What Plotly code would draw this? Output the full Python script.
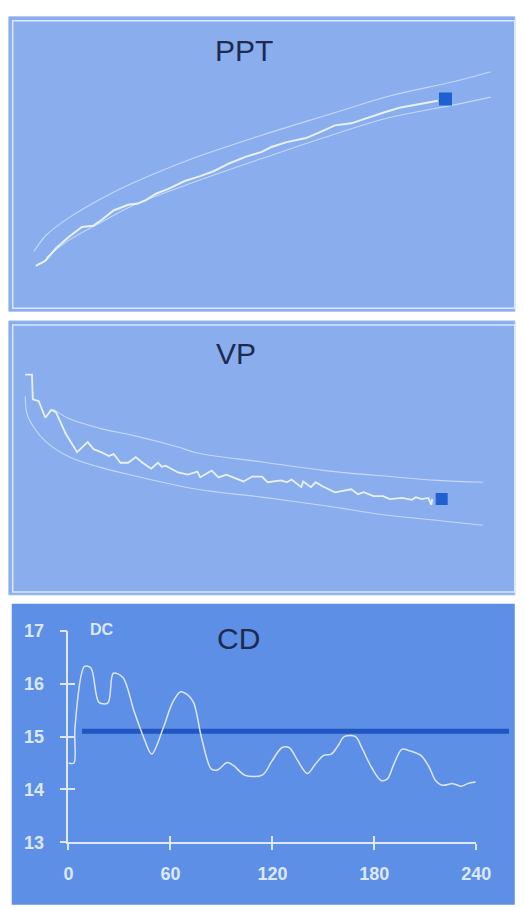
import plotly.graph_objects as go

W, H = 524, 908

# ---------------- data ----------------
# PPT panel (time index, arbitrary units 0-100)
ppt_t = [0, 5.5, 12, 19.5, 27, 33.6, 38.3, 45.6, 54.1, 59.7, 64.8, 70.4, 77.7, 87.3, 96.3,
         104.2, 113.2, 122.8, 132.4, 138, 147, 158.3, 166.2, 175.2, 184.8, 194.4, 203.4,
         213, 222.5, 229.9, 235.5]
ppt_v = [14.7, 16.4, 20.9, 24.8, 28.2, 28.6, 30.5, 33.9, 35.9, 36.3, 37.6, 39.7, 41.4, 44.1,
         45.8, 47.5, 50.2, 52.5, 54.2, 55.9, 57.6, 59.0, 61.0, 63.4, 64.1, 66.1, 67.8, 69.5,
         70.5, 71.5, 71.9]
ppt_up_t = [-1.1, 6.2, 19.7, 38.3, 56.9, 94.6, 132.4, 169.6, 207.3, 245.1, 266.5]
ppt_up_v = [19.7, 25.4, 31.5, 38.0, 43.4, 52.5, 60.0, 66.8, 73.6, 78.6, 82.0]
ppt_lo_t = [6.2, 19.7, 38.3, 56.9, 94.6, 132.4, 169.6, 207.3, 245.1, 266.5]
ppt_lo_v = [17.6, 23.7, 29.8, 35.6, 44.1, 51.9, 59.3, 66.1, 70.5, 73.2]
ppt_last_t = [240]
ppt_last_v = [72.5]

# VP panel
vp_t = [0, 3.9, 4.4, 7.8, 11.6, 15.0, 17.7, 23.3, 29.9, 36.0, 39.4, 43.8, 48.2, 51.0, 54.9,
        59.3, 63.7, 67.6, 72.6, 76.5, 78.7, 80.9, 88.1, 93.7, 99.2, 100.9, 107.5, 111.4,
        115.9, 119.7, 125.8, 130.8, 136.4, 139.7, 147.5, 150.8, 153.5, 159.1, 160.2, 164.6,
        167.4, 171.3, 178.5, 187.9, 191.8, 195.1, 200.7, 206.2, 210.1, 217.3, 222.8, 225.1,
        228.4, 232.3, 234.0, 234.6]
vp_v = [80.9, 80.9, 71.8, 71.1, 65.0, 67.9, 67.1, 59.2, 52.3, 56.0, 53.4, 52.3, 50.9, 51.6,
        48.4, 48.4, 50.5, 48.4, 46.2, 48.4, 46.9, 47.3, 44.8, 44.0, 45.1, 43.0, 45.5, 43.0,
        44.0, 43.0, 41.5, 43.3, 43.3, 41.2, 41.9, 41.2, 42.2, 39.4, 41.5, 39.4, 41.2, 39.7,
        37.5, 38.6, 36.8, 37.5, 36.1, 36.1, 35.0, 35.4, 34.7, 35.7, 35.0, 35.4, 32.9, 35.0]
vp_up_t = [16.1, 25.5, 43.8, 62.1, 88.1, 99.2, 136.4, 172.9, 210.1, 237.8, 263.9]
vp_up_v = [68.2, 64.6, 61.0, 58.5, 54.2, 52.0, 48.7, 45.5, 43.3, 41.9, 41.2]
vp_lo_t = [0, 1.1, 5.0, 12.2, 25.5, 43.8, 62.1, 99.2, 136.4, 172.9, 210.1, 237.8, 263.9]
vp_lo_v = [72.9, 66.4, 61.4, 56.0, 50.5, 46.6, 43.7, 38.6, 35.7, 32.5, 28.9, 27.1, 25.3]
vp_last_t = [240]
vp_last_v = [35.0]

# CD panel
cd_t = [0, 3.2, 3.8, 9.4, 13.2, 17.9, 23.2, 26.4, 32, 38.7, 44.3, 49, 55.7, 61.3, 66, 69.8,
        73.6, 78.3, 84, 87.7, 93.4, 97.2, 103.8, 114, 119.8, 125.5, 130, 135, 140.6, 145.3,
        150, 154.7, 158.5, 162.3, 168.9, 172.6, 178.3, 184, 187.7, 191.5, 196.2, 200.9,
        207.5, 212.3, 216, 219.8, 226.4, 231, 234.9, 239.6]
cd_v = [14.5, 14.5, 15.16, 16.33, 16.3, 15.65, 15.64, 16.2, 16.12, 15.47, 14.98, 14.67, 15.16,
        15.65, 15.85, 15.8, 15.65, 14.98, 14.39, 14.37, 14.51, 14.45, 14.27, 14.27, 14.54,
        14.79, 14.79, 14.54, 14.3, 14.48, 14.64, 14.67, 14.82, 15.0, 15.0, 14.79, 14.42,
        14.17, 14.2, 14.48, 14.76, 14.73, 14.64, 14.42, 14.17, 14.08, 14.11, 14.06, 14.11,
        14.14]
cd_ref_t = [8, 260]
cd_ref_v = [15.1, 15.1]

cd_xticks = [0, 60, 120, 180, 240]
cd_yticks = [13, 14, 15, 16, 17]

# ---------------- styling helpers ----------------
def px_x(p):
    return p / W

def px_y(p):
    return 1 - p / H

main_col = "rgba(236,244,255,0.95)"
band_col = "rgba(215,230,255,0.75)"
mark_col = "#1f5fcf"
title_col = "#1d2b50"
light = "#dce8ff"

fig = go.Figure()

# PPT
fig.add_trace(go.Scatter(x=ppt_up_t, y=ppt_up_v, mode="lines", line=dict(color=band_col, width=1.1, shape="spline"),
                         xaxis="x", yaxis="y", hoverinfo="skip"))
fig.add_trace(go.Scatter(x=ppt_lo_t, y=ppt_lo_v, mode="lines", line=dict(color=band_col, width=1.1, shape="spline"),
                         xaxis="x", yaxis="y", hoverinfo="skip"))
fig.add_trace(go.Scatter(x=ppt_t, y=ppt_v, mode="lines", line=dict(color=main_col, width=2),
                         xaxis="x", yaxis="y"))
fig.add_trace(go.Scatter(x=ppt_last_t, y=ppt_last_v, mode="markers",
                         marker=dict(symbol="square", size=13, color=mark_col), xaxis="x", yaxis="y"))

# VP
fig.add_trace(go.Scatter(x=vp_up_t, y=vp_up_v, mode="lines", line=dict(color=band_col, width=1.1, shape="spline"),
                         xaxis="x2", yaxis="y2", hoverinfo="skip"))
fig.add_trace(go.Scatter(x=vp_lo_t, y=vp_lo_v, mode="lines", line=dict(color=band_col, width=1.1, shape="spline"),
                         xaxis="x2", yaxis="y2", hoverinfo="skip"))
fig.add_trace(go.Scatter(x=vp_t, y=vp_v, mode="lines", line=dict(color=main_col, width=1.8),
                         xaxis="x2", yaxis="y2"))
fig.add_trace(go.Scatter(x=vp_last_t, y=vp_last_v, mode="markers",
                         marker=dict(symbol="square", size=12, color=mark_col), xaxis="x2", yaxis="y2"))

# CD
fig.add_trace(go.Scatter(x=cd_ref_t, y=cd_ref_v, mode="lines", line=dict(color="#2155c2", width=5),
                         xaxis="x3", yaxis="y3"))
fig.add_trace(go.Scatter(x=cd_t, y=cd_v, mode="lines",
                         line=dict(color="rgba(225,236,255,0.95)", width=1.5, shape="spline", smoothing=0.9),
                         xaxis="x3", yaxis="y3"))
# invisible traces to activate axis-only subplots
fig.add_trace(go.Scatter(x=[0], y=[13], mode="markers", marker=dict(opacity=0), xaxis="x4", yaxis="y4", hoverinfo="skip"))
fig.add_trace(go.Scatter(x=[0], y=[13], mode="markers", marker=dict(opacity=0), xaxis="x5", yaxis="y5", hoverinfo="skip"))

# ---------------- layout ----------------
hidden = dict(visible=False, showgrid=False, zeroline=False, fixedrange=True)

cd_x_left, cd_x_right = 66, 490
cd_y_top, cd_y_bot = 635, 851
scale = (cd_x_right - cd_x_left) / (cd_xticks[-1] - cd_xticks[0])
x3_max = (W - cd_x_left) / scale

tickfont = dict(family="Liberation Sans Narrow, Arial Narrow, Liberation Sans, Arial", size=18,
                color=light, weight="bold")

fig.update_layout(
    width=W, height=H,
    margin=dict(l=0, r=0, t=0, b=0),
    paper_bgcolor="white", plot_bgcolor="rgba(0,0,0,0)",
    showlegend=False,
    xaxis=dict(hidden, domain=[0, 1], range=[-18.03, 277.2], anchor="y"),
    yaxis=dict(hidden, domain=[px_y(305), px_y(10)], range=[0, 100], anchor="x"),
    xaxis2=dict(hidden, domain=[0, 1], range=[-11.64, 278.8], anchor="y2"),
    yaxis2=dict(hidden, domain=[px_y(597), px_y(320)], range=[0, 100], anchor="x2"),
    xaxis3=dict(hidden, domain=[px_x(cd_x_left), 1], range=[0, x3_max], anchor="y3"),
    yaxis3=dict(hidden, domain=[px_y(cd_y_bot), px_y(cd_y_top)], range=[13, 17], anchor="x3"),
    xaxis4=dict(domain=[px_x(cd_x_left), px_x(cd_x_right)], range=[0, 240], anchor="y4",
                showgrid=False, zeroline=False, showline=True, linecolor=light, linewidth=1.5,
                ticks="outside", ticklen=6, tickwidth=1.5, tickcolor=light,
                tickvals=cd_xticks, ticktext=[str(v) for v in cd_xticks], tickfont=tickfont,
                ticklabelstandoff=8, fixedrange=True),
    yaxis4=dict(domain=[px_y(cd_y_bot), px_y(cd_y_top)], range=[13, 17], anchor="x4",
                showgrid=False, zeroline=False, showline=True, linecolor=light, linewidth=1.5,
                ticks="outside", ticklen=7, tickwidth=1.5, tickcolor=light,
                tickvals=cd_yticks, ticktext=[str(v) for v in cd_yticks], tickfont=tickfont,
                ticklabelstandoff=12, fixedrange=True),
    xaxis5=dict(overlaying="x4", range=[0, 240], anchor="y4", side="bottom",
                showgrid=False, zeroline=False, showline=False,
                ticks="inside", ticklen=6, tickwidth=1.5, tickcolor=light,
                tickvals=cd_xticks, showticklabels=False, fixedrange=True),
    yaxis5=dict(overlaying="y4", range=[13, 17], anchor="x4", side="left",
                showgrid=False, zeroline=False, showline=False,
                ticks="inside", ticklen=7, tickwidth=1.5, tickcolor=light,
                tickvals=cd_yticks, showticklabels=False, fixedrange=True),
)

# panel backgrounds
shapes = []
for (x0, y0, x1, y1) in [(4, 7, 530, 308), (4, 318, 530, 598)]:
    shapes.append(dict(type="rect", xref="paper", yref="paper", layer="below",
                       x0=px_x(x0), x1=px_x(x1), y0=px_y(y1), y1=px_y(y0),
                       fillcolor="#8aaeed", line=dict(color="#9bb7e8", width=1)))
    shapes.append(dict(type="rect", xref="paper", yref="paper", layer="below",
                       x0=px_x(x0 + 4), x1=px_x(x1), y0=px_y(y1 - 3), y1=px_y(y0 + 4),
                       fillcolor="rgba(0,0,0,0)", line=dict(color="#dbe8ff", width=1.5)))
shapes.append(dict(type="rect", xref="paper", yref="paper", layer="below",
                   x0=px_x(7), x1=px_x(530), y0=px_y(915), y1=px_y(607),
                   fillcolor="#5d8fe6", line=dict(width=0)))
fig.update_layout(shapes=shapes)

title_font = dict(family="Liberation Sans, Arial", size=30, color=title_col)
fig.add_annotation(text="PPT", x=px_x(248), y=px_y(41), xref="paper", yref="paper",
                   showarrow=False, font=title_font, xanchor="center", yanchor="middle")
fig.add_annotation(text="VP", x=px_x(240), y=px_y(351), xref="paper", yref="paper",
                   showarrow=False, font=title_font, xanchor="center", yanchor="middle")
fig.add_annotation(text="CD", x=px_x(243), y=px_y(643), xref="paper", yref="paper",
                   showarrow=False, font=title_font, xanchor="center", yanchor="middle")
fig.add_annotation(text="DC", x=px_x(101), y=px_y(633), xref="paper", yref="paper",
                   showarrow=False, xanchor="center", yanchor="middle",
                   font=dict(family="Liberation Sans, Arial", size=16, color=light, weight="bold"))

fig.write_html("out.html", config={"displayModeBar": False},
               post_script="document.body.style.margin='0';"
                           "document.documentElement.style.overflow='hidden';")
